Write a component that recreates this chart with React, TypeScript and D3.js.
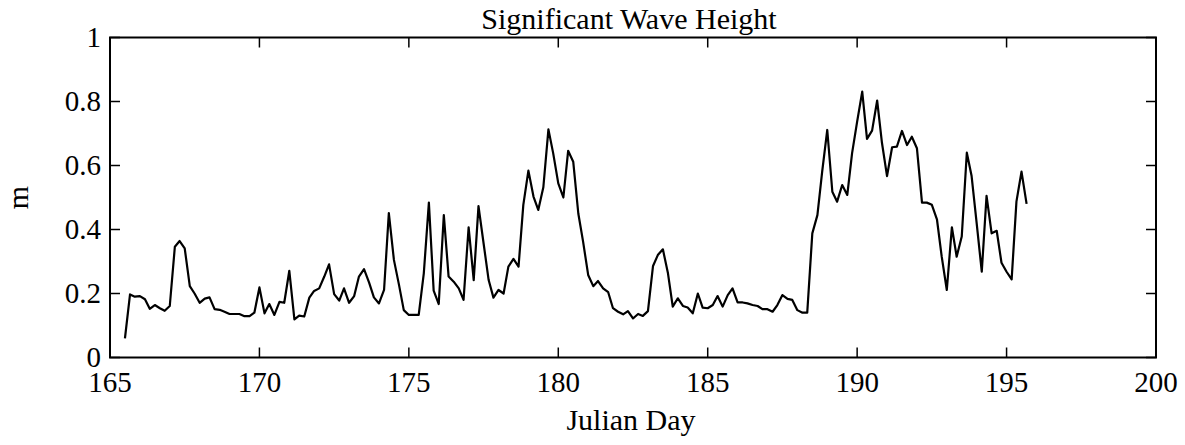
import React, { useEffect, useRef } from 'react';
import * as d3 from 'd3';

// Julian day of each sample (~4 h spacing)
const days: number[] = [
  165.5, 165.67, 165.83, 166.0, 166.17, 166.33, 166.5, 166.67, 166.83, 167.0,
  167.17, 167.33, 167.5, 167.67, 167.83, 168.0, 168.17, 168.33, 168.5, 168.67,
  168.83, 169.0, 169.17, 169.33, 169.5, 169.67, 169.83, 170.0, 170.17, 170.33,
  170.5, 170.67, 170.83, 171.0, 171.17, 171.33, 171.5, 171.67, 171.83, 172.0,
  172.17, 172.33, 172.5, 172.67, 172.83, 173.0, 173.17, 173.33, 173.5, 173.67,
  173.83, 174.0, 174.17, 174.33, 174.5, 174.67, 174.83, 175.0, 175.17, 175.33,
  175.5, 175.67, 175.83, 176.0, 176.17, 176.33, 176.5, 176.67, 176.83, 177.0,
  177.17, 177.33, 177.5, 177.67, 177.83, 178.0, 178.17, 178.33, 178.5, 178.67,
  178.83, 179.0, 179.17, 179.33, 179.5, 179.67, 179.83, 180.0, 180.17, 180.33,
  180.5, 180.67, 180.83, 181.0, 181.17, 181.33, 181.5, 181.67, 181.83, 182.0,
  182.17, 182.33, 182.5, 182.67, 182.83, 183.0, 183.17, 183.33, 183.5, 183.67,
  183.83, 184.0, 184.17, 184.33, 184.5, 184.67, 184.83, 185.0, 185.17, 185.33,
  185.5, 185.67, 185.83, 186.0, 186.17, 186.33, 186.5, 186.67, 186.83, 187.0,
  187.17, 187.33, 187.5, 187.67, 187.83, 188.0, 188.17, 188.33, 188.5, 188.67,
  188.83, 189.0, 189.17, 189.33, 189.5, 189.67, 189.83, 190.0, 190.17, 190.33,
  190.5, 190.67, 190.83, 191.0, 191.17, 191.33, 191.5, 191.67, 191.83, 192.0,
  192.17, 192.33, 192.5, 192.67, 192.83, 193.0, 193.17, 193.33, 193.5, 193.67,
  193.83, 194.0, 194.17, 194.33, 194.5, 194.67, 194.83, 195.0, 195.17, 195.33,
  195.5, 195.67,
];

// significant wave height, m
const waveHeight: number[] = [
  0.06, 0.197, 0.19, 0.192, 0.182, 0.152, 0.164, 0.154, 0.146, 0.161,
  0.346, 0.364, 0.341, 0.223, 0.2, 0.171, 0.184, 0.188, 0.151, 0.149,
  0.143, 0.136, 0.136, 0.136, 0.129, 0.129, 0.14, 0.219, 0.138, 0.167,
  0.133, 0.174, 0.171, 0.271, 0.119, 0.131, 0.128, 0.187, 0.208, 0.216,
  0.253, 0.291, 0.198, 0.178, 0.216, 0.171, 0.192, 0.253, 0.276, 0.234,
  0.188, 0.169, 0.211, 0.451, 0.305, 0.227, 0.148, 0.133, 0.133, 0.133,
  0.263, 0.484, 0.209, 0.167, 0.445, 0.253, 0.237, 0.216, 0.18, 0.407,
  0.242, 0.473, 0.357, 0.242, 0.187, 0.211, 0.2, 0.284, 0.308, 0.284,
  0.477, 0.584, 0.503, 0.461, 0.532, 0.713, 0.638, 0.544, 0.5, 0.646,
  0.612, 0.45, 0.362, 0.258, 0.223, 0.239, 0.216, 0.204, 0.154, 0.143,
  0.135, 0.145, 0.122, 0.136, 0.13, 0.145, 0.286, 0.32, 0.338, 0.263,
  0.159, 0.185, 0.161, 0.156, 0.138, 0.2, 0.156, 0.154, 0.164, 0.192,
  0.159, 0.195, 0.216, 0.172, 0.172, 0.169, 0.164, 0.161, 0.151, 0.151,
  0.143, 0.164, 0.195, 0.183, 0.18, 0.148, 0.14, 0.14, 0.388, 0.445,
  0.581, 0.711, 0.518, 0.487, 0.539, 0.508, 0.638, 0.737, 0.831, 0.683,
  0.709, 0.803, 0.671, 0.567, 0.657, 0.659, 0.708, 0.664, 0.69, 0.654,
  0.484, 0.484, 0.477, 0.432, 0.315, 0.211, 0.407, 0.315, 0.378, 0.64,
  0.567, 0.419, 0.268, 0.505, 0.388, 0.396, 0.296, 0.268, 0.244, 0.487,
  0.581, 0.48,
];

const xTicks = [165, 170, 175, 180, 185, 190, 195, 200];
const yTicks = [0, 0.2, 0.4, 0.6, 0.8, 1];

const W = 1185;
const H = 445;
const FONT = '"Liberation Serif", "Times New Roman", serif';

const App: React.FC = () => {
  const svgRef = useRef<SVGSVGElement>(null);

  useEffect(() => {
    if (!svgRef.current) return;
    const svg = d3.select(svgRef.current);
    svg.selectAll('*').remove();

    const left = 110, right = 1156, top = 37.5, bottom = 357.5;
    const x = d3.scaleLinear().domain([165, 200]).range([left, right]);
    const y = d3.scaleLinear().domain([0, 1]).range([bottom, top]);
    const tick = 10;

    const g = svg.append('g');

    // data line
    const pts: [number, number][] = days.map((d, i) => [d, waveHeight[i]]);
    const line = d3.line<[number, number]>()
      .x(d => x(d[0]))
      .y(d => y(d[1]));
    g.append('path')
      .datum(pts)
      .attr('fill', 'none')
      .attr('stroke', '#000')
      .attr('stroke-width', 2.2)
      .attr('stroke-linejoin', 'round')
      .attr('d', line);

    // box
    g.append('rect')
      .attr('x', left).attr('y', top)
      .attr('width', right - left).attr('height', bottom - top)
      .attr('fill', 'none').attr('stroke', '#000').attr('stroke-width', 2);

    // x ticks (bottom + top, inward)
    xTicks.forEach(t => {
      const px = x(t);
      g.append('line').attr('x1', px).attr('x2', px)
        .attr('y1', bottom).attr('y2', bottom - tick)
        .attr('stroke', '#000').attr('stroke-width', 1.5);
      g.append('line').attr('x1', px).attr('x2', px)
        .attr('y1', top).attr('y2', top + tick)
        .attr('stroke', '#000').attr('stroke-width', 1.5);
      g.append('text')
        .attr('x', px).attr('y', 392)
        .attr('text-anchor', 'middle')
        .attr('font-family', FONT).attr('font-size', 29)
        .text(String(t));
    });

    // y ticks (left + right, inward)
    yTicks.forEach(t => {
      const py = y(t);
      g.append('line').attr('x1', left).attr('x2', left + tick)
        .attr('y1', py).attr('y2', py)
        .attr('stroke', '#000').attr('stroke-width', 1.5);
      g.append('line').attr('x1', right).attr('x2', right - tick)
        .attr('y1', py).attr('y2', py)
        .attr('stroke', '#000').attr('stroke-width', 1.5);
      g.append('text')
        .attr('x', 101).attr('y', py + 9)
        .attr('text-anchor', 'end')
        .attr('font-family', FONT).attr('font-size', 29)
        .text(d3.format('~g')(t));
    });

    // title and axis labels
    g.append('text')
      .attr('x', (left + right) / 2 - 4).attr('y', 29)
      .attr('text-anchor', 'middle')
      .attr('font-family', FONT).attr('font-size', 30)
      .text('Significant Wave Height');

    g.append('text')
      .attr('x', (left + right) / 2 - 2).attr('y', 430)
      .attr('text-anchor', 'middle')
      .attr('font-family', FONT).attr('font-size', 30)
      .text('Julian Day');

    g.append('text')
      .attr('transform', `translate(28,${(top + bottom) / 2}) rotate(-90)`)
      .attr('text-anchor', 'middle')
      .attr('font-family', FONT).attr('font-size', 30)
      .text('m');
  }, []);

  return (
    <svg
      ref={svgRef}
      width={W}
      height={H}
      viewBox={`0 0 ${W} ${H}`}
      style={{ position: 'absolute', left: 0, top: 0, background: '#fff' }}
    />
  );
};

export default App;
